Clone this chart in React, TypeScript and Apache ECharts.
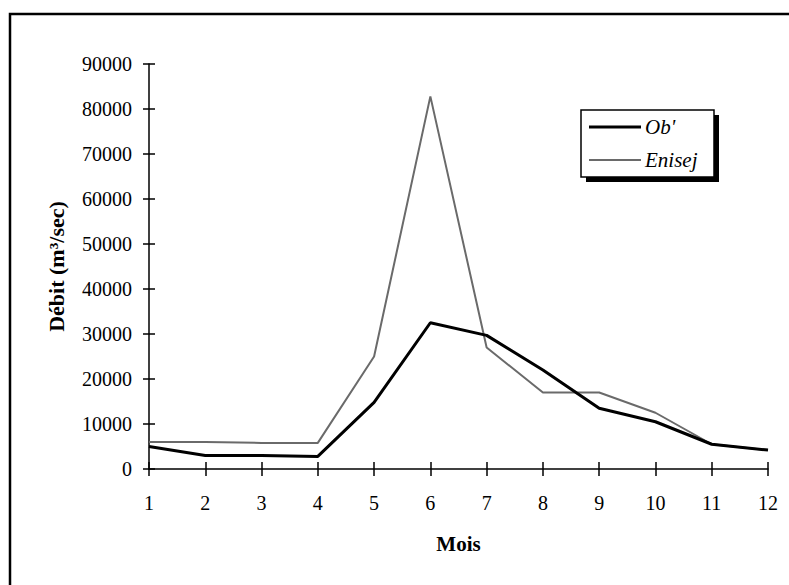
import React, { useEffect, useRef } from "react";
import * as echarts from "echarts";

const months = ["1", "2", "3", "4", "5", "6", "7", "8", "9", "10", "11", "12"];
const obValues = [5000, 3000, 3000, 2800, 14800, 32500, 29700, 22000, 13500, 10500, 5500, 4200];
const enisejValues = [6000, 6000, 5800, 5800, 25000, 82800, 27000, 17000, 17000, 12500, 5500, 4200];
const seriesNames = ["Ob'", "Enisej"];
const yTicks = { min: 0, max: 90000, interval: 10000 };

const FONT = "'Liberation Serif', 'Times New Roman', serif";
const OB_COLOR = "#000";
const EN_COLOR = "#6a6a6a";

export default function App() {
  const ref = useRef<HTMLDivElement>(null);
  useEffect(() => {
    document.body.style.margin = "0";
    const chart = echarts.init(ref.current!, null, { renderer: "svg" });
    chart.setOption({
      animation: false,
      backgroundColor: "#ffffff",
      textStyle: { fontFamily: FONT, color: "#000" },
      grid: { left: 149, top: 64, right: 21, bottom: 116, containLabel: false },
      xAxis: [
        {
          type: "category",
          data: months,
          boundaryGap: false,
          name: "Mois",
          nameLocation: "middle",
          nameGap: 64,
          nameTextStyle: { fontFamily: FONT, fontWeight: "bold", fontSize: 21, color: "#000" },
          axisLine: { show: true, lineStyle: { color: "#000", width: 1.5 } },
          axisTick: { show: true, inside: false, length: 7, lineStyle: { color: "#000", width: 1.5 } },
          axisLabel: { fontFamily: FONT, fontSize: 20, color: "#000", margin: 24 },
          splitLine: { show: false },
        },
        {
          type: "category",
          data: months,
          boundaryGap: false,
          position: "bottom",
          axisLine: { show: false },
          axisTick: { show: true, inside: true, length: 7, lineStyle: { color: "#000", width: 1.5 } },
          axisLabel: { show: false },
          splitLine: { show: false },
        },
      ],
      yAxis: [
        {
          type: "value",
          min: yTicks.min,
          max: yTicks.max,
          interval: yTicks.interval,
          name: "Débit (m³/sec)",
          nameLocation: "middle",
          nameGap: 82,
          nameRotate: 90,
          nameTextStyle: { fontFamily: FONT, fontWeight: "bold", fontSize: 22, color: "#000" },
          axisLine: { show: true, lineStyle: { color: "#000", width: 1.5 } },
          axisTick: { show: true, inside: false, length: 6, lineStyle: { color: "#000", width: 1.5 } },
          axisLabel: { fontFamily: FONT, fontSize: 20, color: "#000", margin: 17, formatter: (v: number) => String(v) },
          splitLine: { show: false },
        },
        {
          type: "value",
          min: yTicks.min,
          max: yTicks.max,
          interval: yTicks.interval,
          position: "left",
          axisLine: { show: false },
          axisTick: { show: true, inside: true, length: 6, lineStyle: { color: "#000", width: 1.5 } },
          axisLabel: { show: false },
          splitLine: { show: false },
        },
      ],
      graphic: [
        {
          type: "rect",
          z: -10,
          shape: { x: 10, y: 14, width: 800, height: 620 },
          style: { fill: "none", stroke: "#000", lineWidth: 2.5 },
        },
        {
          type: "rect",
          z: 1,
          shape: { x: 586, y: 115, width: 133, height: 67 },
          style: { fill: "#000", stroke: "none" },
        },
        {
          type: "rect",
          z: 2,
          shape: { x: 581, y: 110, width: 133, height: 67 },
          style: { fill: "#fff", stroke: "#000", lineWidth: 1.5 },
        },
        {
          type: "line",
          z: 3,
          shape: { x1: 589, y1: 127, x2: 641, y2: 127 },
          style: { stroke: OB_COLOR, lineWidth: 3 },
        },
        {
          type: "line",
          z: 3,
          shape: { x1: 589, y1: 160, x2: 641, y2: 160 },
          style: { stroke: EN_COLOR, lineWidth: 2 },
        },
        {
          type: "text",
          z: 3,
          x: 645,
          y: 127,
          style: {
            text: seriesNames[0],
            fontFamily: FONT,
            fontStyle: "italic",
            fontSize: 21,
            fill: "#000",
            verticalAlign: "middle",
          },
        },
        {
          type: "text",
          z: 3,
          x: 645,
          y: 160,
          style: {
            text: seriesNames[1],
            fontFamily: FONT,
            fontStyle: "italic",
            fontSize: 21,
            fill: "#000",
            verticalAlign: "middle",
          },
        },
      ],
      series: [
        {
          name: seriesNames[0],
          type: "line",
          data: obValues,
          symbol: "none",
          z: 5,
          lineStyle: { color: OB_COLOR, width: 3 },
          itemStyle: { color: OB_COLOR },
        },
        {
          name: seriesNames[1],
          type: "line",
          data: enisejValues,
          symbol: "none",
          z: 4,
          lineStyle: { color: EN_COLOR, width: 2 },
          itemStyle: { color: EN_COLOR },
        },
      ],
    });
    return () => chart.dispose();
  }, []);
  return <div ref={ref} style={{ width: 789, height: 585, position: "absolute", left: 0, top: 0 }} />;
}
